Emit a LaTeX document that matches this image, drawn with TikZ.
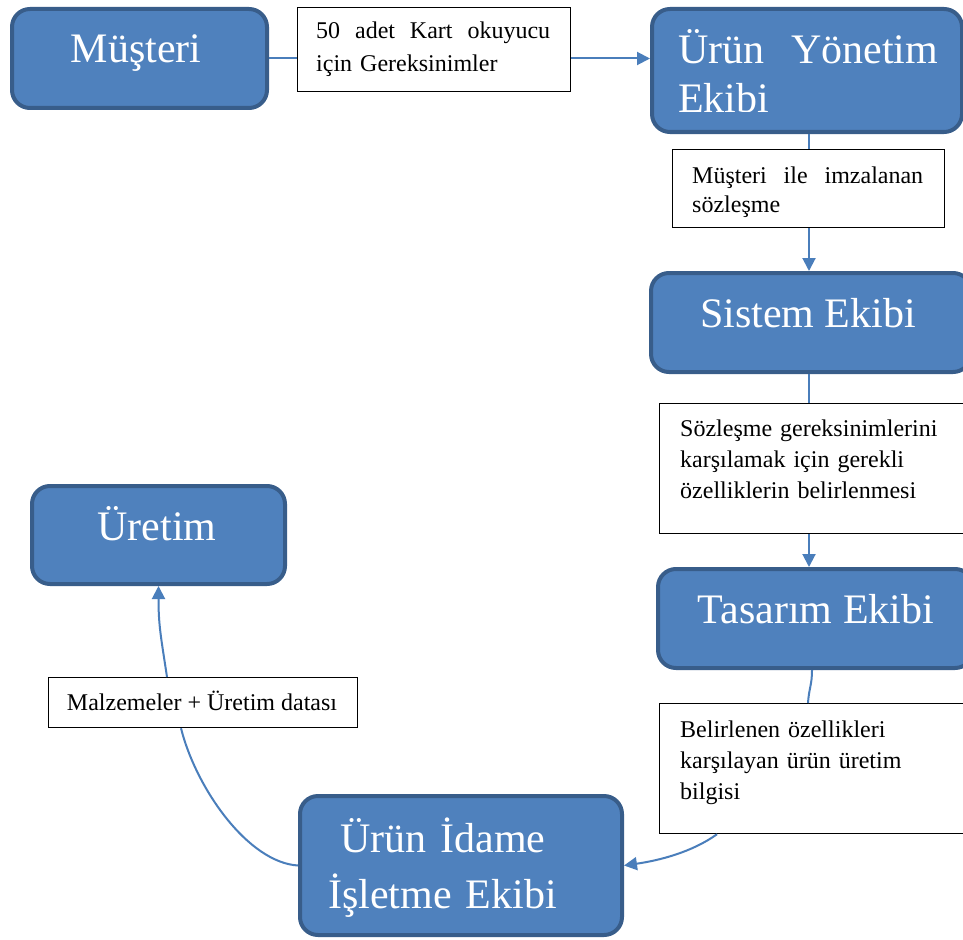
\documentclass[tikz,border=0pt]{standalone}
\usepackage{fontspec}
\setmainfont{Liberation Serif}
\usetikzlibrary{arrows.meta}
\definecolor{boxfill}{HTML}{4F81BD}
\definecolor{boxline}{HTML}{385D8A}
\definecolor{conncol}{HTML}{4A7EBB}
\tikzset{
 bluebox/.style={draw=boxline, fill=boxfill, line width=4pt, rounded corners=18pt, inner sep=0pt, anchor=north west},
 textbox/.style={draw=black, fill=white, line width=1.2pt, inner sep=0pt, anchor=north west},
 bigtext/.style={text=white, font=\fontsize{42}{49}\selectfont, inner sep=0pt},
 smalltext/.style={text=black, font=\fontsize{24}{31}\selectfont, inner sep=0pt, align=left, anchor=base west},
 conn/.style={draw=conncol, line width=2pt},
 arr/.style={-{Triangle[length=13pt,width=13pt]}}
}
\begin{document}
\begin{tikzpicture}[x=1pt,y=-1pt]
\clip (0,0) rectangle (963,939);
\fill[white] (0,0) rectangle (963,939);
% blue boxes
\node[bluebox, minimum width=255pt, minimum height=99pt] (must) at (10,7) {};
\node[bluebox, minimum width=310pt, minimum height=123pt] (uy) at (650,7) {};
\node[bluebox, minimum width=320pt, minimum height=99pt] (sis) at (649,271) {};
\node[bluebox, minimum width=315pt, minimum height=99pt] (tas) at (656,567) {};
\node[bluebox, minimum width=253pt, minimum height=98pt] (uret) at (30,484) {};
\node[bluebox, minimum width=322pt, minimum height=139pt] (idame) at (298,794) {};
% text boxes
\node[textbox, minimum width=273pt, minimum height=84pt] (t1) at (297,7) {};
\node[textbox, minimum width=272pt, minimum height=78pt] (t2) at (672,149) {};
\node[textbox, minimum width=316pt, minimum height=130pt] (t3) at (659,403) {};
\node[textbox, minimum width=316pt, minimum height=130pt] (t4) at (659,703) {};
\node[textbox, minimum width=309pt, minimum height=50pt] (t5) at (48,677) {};
% blue box texts
\node[bigtext, anchor=base] (mustT) at (136,63) {Müşteri};
\begin{scope}
\clip (650,7) rectangle (960,112);
\node[bigtext, anchor=base west, text width=260pt, align=left] (uyT) at (678,64) {\hbox to 260pt{Ürün\hfill Yönetim}\\Ekibi};
\end{scope}
\node[bigtext, anchor=base] (sisT) at (808,327) {Sistem Ekibi};
\node[bigtext, anchor=base] (tasT) at (816,623) {Tasarım Ekibi};
\node[bigtext, anchor=base] (uretT) at (157,540) {Üretim};
\node[bigtext, anchor=base west, text width=280pt, align=left, font=\fontsize{42}{56}\selectfont] (idameT) at (328,852) {\hspace*{12pt}Ürün İdame\\İşletme Ekibi};
% small texts
\node[smalltext, text width=234pt, font=\fontsize{24}{33}\selectfont] (t1T) at (316,39) {\hbox to 234pt{50\hfill adet\hfill Kart\hfill okuyucu}\\için Gereksinimler};
\node[smalltext, text width=231pt, font=\fontsize{24}{29}\selectfont] (t2T) at (692,183) {\hbox to 231pt{Müşteri\hfill ile\hfill imzalanan}\\sözleşme};
\node[smalltext, text width=280pt] (t3T) at (680,436) {Sözleşme gereksinimlerini\\karşılamak için gerekli\\özelliklerin belirlenmesi};
\node[smalltext, text width=280pt] (t4T) at (680,737) {Belirlenen özellikleri\\karşılayan ürün üretim\\bilgisi};
\node[smalltext, anchor=base] (t5T) at (202,710) {Malzemeler + Üretim datası};
% connectors
\coordinate (vx) at (809,0);
\coordinate (vx2) at (812,0);
\coordinate (vx3) at (808,0);
\coordinate (vx4) at (717,0);
\coordinate (hx1) at (181,0);
\coordinate (hx2) at (167,0);
\draw[conn] (must.east) -- (must.east -| t1.west);
\draw[conn,arr] (must.east -| t1.east) -- (must.east -| uy.west);
\draw[conn] (uy.south -| vx) -- (t2.north -| vx);
\draw[conn,arr] (t2.south -| vx) -- (sis.north -| vx);
\draw[conn] (sis.south -| vx) -- (t3.north -| vx);
\draw[conn,arr] (t3.south -| vx) -- (tas.north -| vx);
\draw[conn] (tas.south -| vx2) .. controls +(0,15) and +(1,-15) .. (t4.north -| vx3);
\draw[conn,arr] (t4.south -| vx4) .. controls +(-25,18) and +(35,-5) .. (idame.east);
\draw[conn] (idame.west) .. controls +(-50,-3) and +(15,60) .. (t5.south -| hx1);
\draw[conn,arr] (t5.north -| hx2) .. controls +(-6,-40) and +(0,40) .. (uret.south);
\end{tikzpicture}
\end{document}
